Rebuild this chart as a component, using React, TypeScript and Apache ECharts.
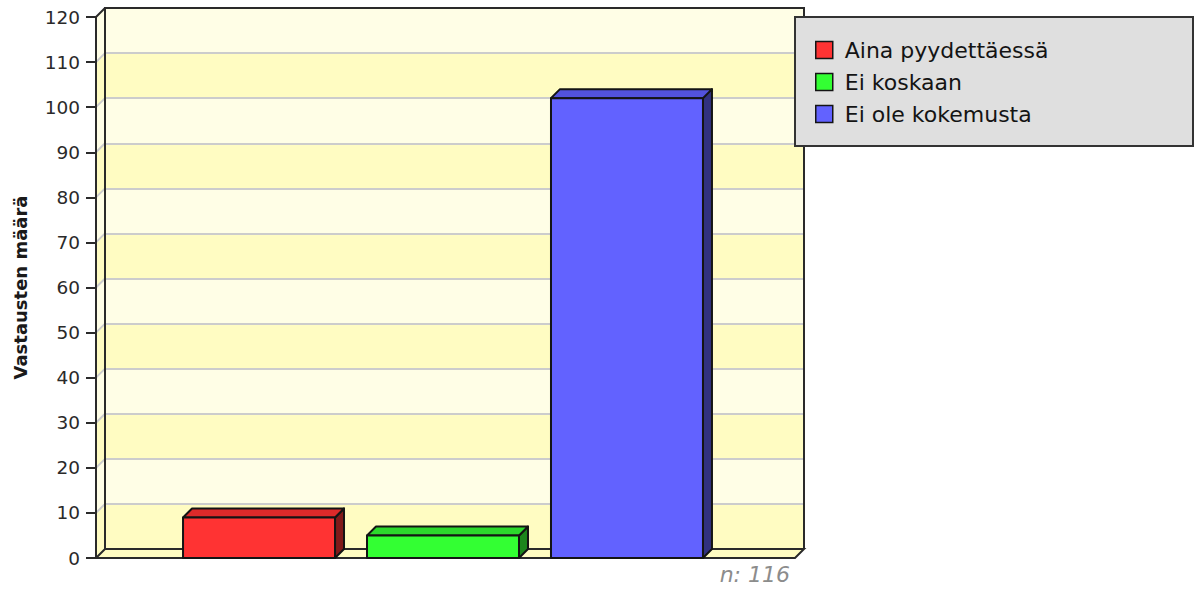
import React, { useEffect, useRef } from "react";
import * as echarts from "echarts";

// Survey answers and counts
const CATEGORIES = ["Aina pyydettäessä", "Ei koskaan", "Ei ole kokemusta"];
const COUNTS = [9, 5, 102];
const FRONT_COLORS = ["#ff3333", "#33ff33", "#6262ff"];
const TOP_COLORS = ["#dd2a2a", "#2cd82c", "#5252dd"];
const SIDE_COLORS = ["#801a1a", "#1c861c", "#31317f"];

// Value axis
const Y_MIN = 0;
const Y_MAX = 120;
const Y_STEP = 10;
const Y_TITLE = "Vastausten määrä";

// 3D layout
const DEPTH = 9;
const FRONT = { left: 96, top: 17, width: 694, height: 541 };
const BACK_WIDTH = 699;
const BAR_RATIO = 0.219;
const GAP_RATIO = 0.0461;

const FONT = "DejaVu Sans";
const BAND_DARK = "#fffcc2";
const BAND_LIGHT = "#fffee6";
const GRID_LINE = "#cccccc";
const EDGE = "#2a2a2a";
const BAR_EDGE = "#141414";

export default function App() {
  const ref = useRef<HTMLDivElement>(null);

  useEffect(() => {
    if (!ref.current) return;
    const chart = echarts.init(ref.current, undefined, { renderer: "svg" });
    const total = COUNTS.reduce((a, b) => a + b, 0);

    const wallsSeries = {
      type: "custom",
      xAxisIndex: 0,
      yAxisIndex: 0,
      silent: true,
      z: 1,
      data: [[0, 0]],
      renderItem: (params: any, api: any) => {
        const cs = params.coordSys;
        const left = cs.x;
        const bottom = cs.y + cs.height;
        const backRight = left + DEPTH + BACK_WIDTH;
        const frontRight = backRight - DEPTH;
        const children: any[] = [];
        const yOf = (v: number) => api.coord([0, v])[1];
        let k = 0;
        for (let v = Y_MIN; v < Y_MAX; v += Y_STEP, k++) {
          const y0 = yOf(v);
          const y1 = yOf(v + Y_STEP);
          children.push({
            type: "polygon",
            shape: {
              points: [
                [left, y0],
                [left + DEPTH, y0 - DEPTH],
                [left + DEPTH, y1 - DEPTH],
                [left, y1],
              ],
            },
            style: { fill: k % 2 === 0 ? BAND_DARK : BAND_LIGHT },
          });
        }
        for (let v = Y_MIN + Y_STEP; v < Y_MAX; v += Y_STEP) {
          const y = yOf(v);
          children.push({
            type: "line",
            shape: { x1: left, y1: y, x2: left + DEPTH, y2: y - DEPTH },
            style: { stroke: GRID_LINE, lineWidth: 2 },
          });
        }
        const yTop = yOf(Y_MAX);
        children.push({
          type: "line",
          shape: { x1: left, y1: yTop, x2: left + DEPTH, y2: yTop - DEPTH },
          style: { stroke: EDGE, lineWidth: 2 },
        });
        children.push({
          type: "polyline",
          shape: {
            points: [
              [left + DEPTH, bottom - DEPTH],
              [left + DEPTH, yTop - DEPTH],
              [backRight, yTop - DEPTH],
              [backRight, bottom - DEPTH],
            ],
          },
          style: { fill: "none", stroke: EDGE, lineWidth: 2 },
        });
        children.push({
          type: "polygon",
          shape: {
            points: [
              [left, bottom],
              [left + DEPTH, bottom - DEPTH],
              [backRight, bottom - DEPTH],
              [frontRight, bottom],
            ],
          },
          style: { fill: BAND_DARK, stroke: EDGE, lineWidth: 2 },
        });
        return { type: "group", children };
      },
    };

    const barSeries = CATEGORIES.map((name, idx) => ({
      type: "custom",
      name,
      xAxisIndex: 0,
      yAxisIndex: 0,
      z: 3,
      itemStyle: { color: FRONT_COLORS[idx], borderColor: BAR_EDGE, borderWidth: 1.5 },
      encode: { x: 0, y: 1 },
      data: [[0, COUNTS[idx]]],
      renderItem: (params: any, api: any) => {
        const base = api.coord([api.value(0), 0]);
        const top = api.coord([api.value(0), api.value(1)]);
        const band = api.size([1, 0])[0];
        const bw = band * BAR_RATIO;
        const gap = band * GAP_RATIO;
        const left = base[0] + (idx - (CATEGORIES.length - 1) / 2) * (bw + gap) - bw / 2;
        const right = left + bw;
        const yT = top[1];
        const yB = base[1];
        const stroke = { stroke: BAR_EDGE, lineWidth: 2, lineJoin: "round" };
        return {
          type: "group",
          children: [
            {
              type: "polygon",
              shape: {
                points: [
                  [right, yT],
                  [right + DEPTH, yT - DEPTH],
                  [right + DEPTH, yB - DEPTH],
                  [right, yB],
                ],
              },
              style: { fill: SIDE_COLORS[idx], ...stroke },
            },
            {
              type: "polygon",
              shape: {
                points: [
                  [left, yT],
                  [left + DEPTH, yT - DEPTH],
                  [right + DEPTH, yT - DEPTH],
                  [right, yT],
                ],
              },
              style: { fill: TOP_COLORS[idx], ...stroke },
            },
            {
              type: "rect",
              shape: { x: left, y: yT, width: bw, height: yB - yT },
              style: { fill: FRONT_COLORS[idx], ...stroke },
            },
          ],
        };
      },
    }));

    chart.setOption({
      animation: false,
      grid: [
        { left: FRONT.left, top: FRONT.top, width: FRONT.width, height: FRONT.height },
        {
          left: FRONT.left + DEPTH,
          top: FRONT.top - DEPTH,
          width: BACK_WIDTH,
          height: FRONT.height,
        },
      ],
      xAxis: [
        { type: "category", gridIndex: 0, data: [""], show: false },
        { type: "value", gridIndex: 1, show: false },
      ],
      yAxis: [
        {
          type: "value",
          gridIndex: 0,
          min: Y_MIN,
          max: Y_MAX,
          interval: Y_STEP,
          name: Y_TITLE,
          nameLocation: "middle",
          nameRotate: 90,
          nameGap: 67,
          nameTextStyle: { fontFamily: FONT, fontWeight: "bold", fontSize: 18, color: "#1a1a1a" },
          axisLine: { show: true, lineStyle: { color: EDGE, width: 2 } },
          axisTick: { show: true, length: 10, lineStyle: { color: EDGE, width: 2 } },
          axisLabel: { margin: 16, fontFamily: FONT, fontSize: 18.5, color: "#2a2a2a" },
          splitLine: { show: false },
          z: 5,
        },
        {
          type: "value",
          gridIndex: 1,
          min: Y_MIN,
          max: Y_MAX,
          interval: Y_STEP,
          axisLine: { show: false },
          axisTick: { show: false },
          axisLabel: { show: false },
          splitLine: { show: true, lineStyle: { color: GRID_LINE, width: 2 } },
          splitArea: { show: true, areaStyle: { color: [BAND_DARK, BAND_LIGHT] } },
        },
      ],
      legend: {
        data: CATEGORIES,
        orient: "vertical",
        left: 815,
        top: 39,
        padding: 0,
        itemWidth: 17,
        itemHeight: 17,
        itemGap: 10,
        icon: "rect",
        z: 11,
        itemStyle: { borderColor: BAR_EDGE, borderWidth: 1.5 },
        textStyle: {
          fontFamily: FONT,
          fontSize: 22,
          lineHeight: 22,
          color: "#141414",
          padding: [0, 0, 0, 7],
        },
      },
      graphic: [
        {
          type: "rect",
          z: 10,
          shape: { x: 795, y: 17, width: 398, height: 129 },
          style: { fill: "#dfdfdf", stroke: "#333", lineWidth: 2 },
        },
        {
          type: "text",
          z: 10,
          x: 790,
          y: 574,
          style: {
            text: `n: ${total}`,
            fontFamily: FONT,
            fontStyle: "italic",
            fontSize: 22,
            fill: "#8c8c8c",
            align: "right",
            verticalAlign: "middle",
          },
        },
      ],
      series: [wallsSeries, ...barSeries],
    });

    return () => chart.dispose();
  }, []);

  return (
    <div
      ref={ref}
      style={{ position: "fixed", left: 0, top: 0, width: 1202, height: 591, background: "#fff" }}
    />
  );
}
